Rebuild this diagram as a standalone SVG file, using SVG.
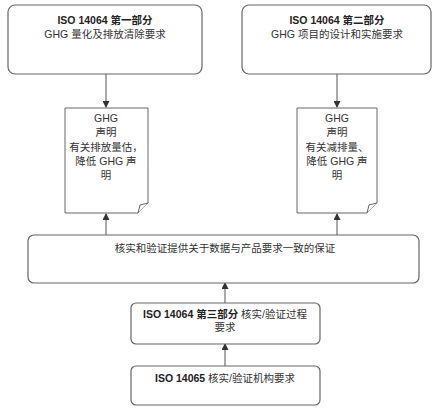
<svg xmlns="http://www.w3.org/2000/svg" width="440" height="412" viewBox="0 0 440 412">
<style>
.box{fill:#fff;stroke:#666;stroke-width:1.2}
.doc{fill:#fff;stroke:#666;stroke-width:1}
.t{font-family:"Liberation Sans","Noto Sans CJK SC",sans-serif;font-size:10.5px;fill:#333;text-anchor:middle}
.b{font-weight:bold;fill:#222}
.c{stroke:#555;stroke-width:1;fill:none}
</style>
<defs>
<marker id="ah" markerWidth="7" markerHeight="7" refX="6" refY="3.5" orient="auto" markerUnits="userSpaceOnUse">
<path d="M0,0 L7,3.5 L0,7 Z" fill="#333"/>
</marker>
</defs>
<rect width="440" height="412" fill="#fff"/>
<g id="connectors">
<line class="c" x1="106" y1="74" x2="106" y2="107" marker-end="url(#ah)"/>
<line class="c" x1="337" y1="74" x2="337" y2="107" marker-end="url(#ah)"/>
<line class="c" x1="106" y1="235" x2="106" y2="214" marker-end="url(#ah)"/>
<line class="c" x1="337" y1="235" x2="337" y2="214" marker-end="url(#ah)"/>
<line class="c" x1="225" y1="303" x2="225" y2="283" marker-end="url(#ah)"/>
<line class="c" x1="225" y1="366" x2="225" y2="344" marker-end="url(#ah)"/>
</g>
<g id="part1">
<rect class="box" x="8" y="5" width="194" height="69" rx="7"/>
<text class="t b" x="105" y="24">ISO 14064 第一部分</text>
<text class="t" x="105" y="38">GHG 量化及排放清除要求</text>
</g>
<g id="part2">
<rect class="box" x="242" y="5" width="189" height="69" rx="7"/>
<text class="t b" x="337" y="24">ISO 14064 第二部分</text>
<text class="t" x="337" y="38">GHG 项目的设计和实施要求</text>
</g>
<g id="doc1">
<path class="doc" d="M65,108 H148 V203 L138,213 H65 Z"/>
<path class="doc" d="M148,203 L140,205 L138,213"/>
<text class="t" x="106" y="122">GHG</text>
<text class="t" x="106" y="136">声明</text>
<text class="t" x="106" y="151">有关排放量估，</text>
<text class="t" x="106" y="165">降低 GHG 声</text>
<text class="t" x="106" y="179">明</text>
</g>
<g id="doc2">
<path class="doc" d="M297,108 H377 V203 L367,213 H297 Z"/>
<path class="doc" d="M377,203 L369,205 L367,213"/>
<text class="t" x="337" y="122">GHG</text>
<text class="t" x="337" y="136">声明</text>
<text class="t" x="337" y="151">有关减排量、</text>
<text class="t" x="337" y="165">降低 GHG 声</text>
<text class="t" x="337" y="179">明</text>
</g>
<g id="assurance">
<rect class="box" x="28" y="235" width="391" height="48" rx="6"/>
<text class="t" x="225" y="252">核实和验证提供关于数据与产品要求一致的保证</text>
</g>
<g id="part3">
<rect class="box" x="131" y="303" width="189" height="41" rx="5"/>
<text class="t" x="225" y="318"><tspan class="b">ISO 14064 第三部分</tspan> 核实/验证过程</text>
<text class="t" x="225" y="331">要求</text>
</g>
<g id="iso14065">
<rect class="box" x="131" y="366" width="189" height="39" rx="5"/>
<text class="t" x="225" y="382"><tspan class="b">ISO 14065</tspan> 核实/验证机构要求</text>
</g>
</svg>
